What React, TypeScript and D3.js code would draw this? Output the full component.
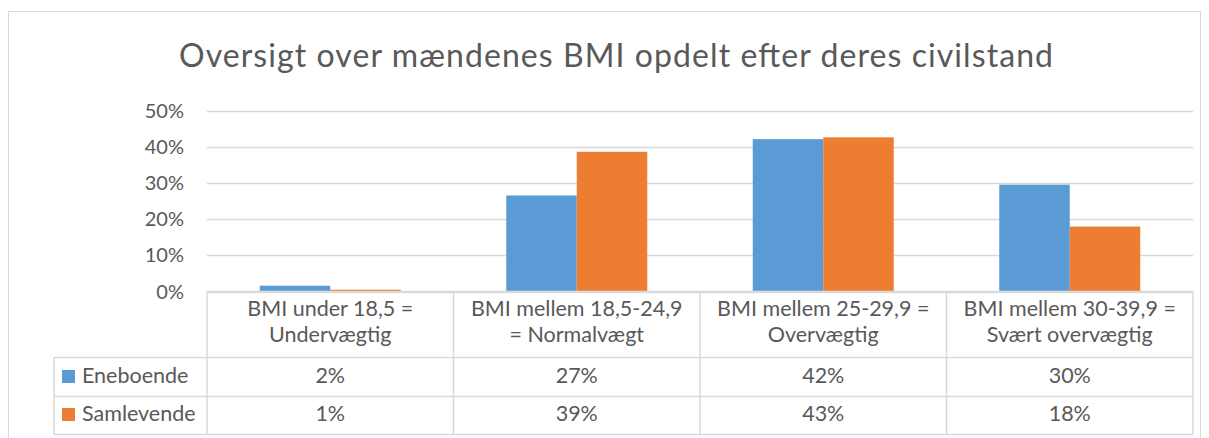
import React, { useRef, useEffect } from 'react';
import * as d3 from 'd3';

// data
const categories = [
  ['BMI under 18,5 =', 'Undervægtig'],
  ['BMI mellem 18,5-24,9', '= Normalvægt'],
  ['BMI mellem 25-29,9 =', 'Overvægtig'],
  ['BMI mellem 30-39,9 =', 'Svært overvægtig'],
];
const seriesNames = ['Eneboende', 'Samlevende'];
const eneboende = [1.6, 26.6, 42.2, 29.6];
const samlevende = [0.5, 38.7, 42.7, 18.0];
const yTicks = [0, 10, 20, 30, 40, 50];
const colors = ['#5b9bd5', '#ed7d31'];
const title = 'Oversigt over mændenes BMI opdelt efter deres civilstand';

export default function App() {
  const svgRef = useRef<SVGSVGElement>(null);

  useEffect(() => {
    const width = 1209;
    const height = 438;
    const left = 207, right = 1193, top = 111, bottom = 291.5;
    const rowH = [357.5, 396.5, 434.5];
    const font = 'Lato, "Open Sans", sans-serif';
    const textColor = '#595959';
    const lineColor = '#d9d9d9';
    const tableFont = '21.5px';

    const svg = d3.select(svgRef.current)
      .attr('width', width)
      .attr('height', height);
    svg.selectAll('*').remove();

    // chart border
    svg.append('rect')
      .attr('x', 8.5).attr('y', 11.5)
      .attr('width', 1192).attr('height', 460)
      .attr('fill', 'white')
      .attr('stroke', lineColor);

    // title
    svg.append('text')
      .attr('x', 616).attr('y', 67)
      .attr('text-anchor', 'middle')
      .attr('textLength', 874)
      .attr('lengthAdjust', 'spacing')
      .style('font-family', font)
      .style('font-size', '32px')
      .style('fill', textColor)
      .text(title);

    // scales
    const x = d3.scaleBand<number>()
      .domain(d3.range(categories.length))
      .range([left, right])
      .paddingInner(0.428)
      .paddingOuter(0.214);
    const x1 = d3.scaleBand<number>()
      .domain([0, 1])
      .range([0, x.bandwidth()]);
    const y = d3.scaleLinear()
      .domain([0, 50])
      .range([bottom, top]);

    // gridlines
    svg.append('g')
      .selectAll('line')
      .data(yTicks)
      .join('line')
      .attr('x1', left).attr('x2', right)
      .attr('y1', d => Math.round(y(d)) + 0.5)
      .attr('y2', d => Math.round(y(d)) + 0.5)
      .attr('stroke', lineColor)
      .attr('stroke-width', 1.3);

    // y labels
    svg.append('g')
      .selectAll('text')
      .data(yTicks)
      .join('text')
      .attr('x', 184)
      .attr('y', d => y(d))
      .attr('dy', '0.35em')
      .attr('text-anchor', 'end')
      .style('font-family', font)
      .style('font-size', '20px')
      .style('fill', textColor)
      .text(d => `${d}%`);

    // bars
    const series = [eneboende, samlevende];
    series.forEach((vals, si) => {
      svg.append('g')
        .selectAll('rect')
        .data(vals)
        .join('rect')
        .attr('x', (d, i) => x(i)! + x1(si)!)
        .attr('y', d => y(d))
        .attr('width', x1.bandwidth())
        .attr('height', d => bottom - y(d))
        .attr('fill', colors[si]);
    });

    // data table
    const step = x.step();
    const table = svg.append('g')
      .attr('stroke', lineColor)
      .attr('stroke-width', 1.5)
      .attr('fill', 'none');
    table.append('line').attr('x1', left).attr('x2', right).attr('y1', bottom).attr('y2', bottom);
    rowH.forEach(ry => {
      table.append('line').attr('x1', 54).attr('x2', right).attr('y1', ry).attr('y2', ry);
    });
    d3.range(categories.length + 1).forEach(i => {
      const vx = left + i * step;
      table.append('line').attr('x1', vx).attr('x2', vx).attr('y1', bottom).attr('y2', rowH[2]);
    });
    table.append('line').attr('x1', 54).attr('x2', 54).attr('y1', rowH[0]).attr('y2', rowH[2]);

    // header text
    categories.forEach((lines, i) => {
      const cx = left + (i + 0.5) * step;
      lines.forEach((ln, li) => {
        svg.append('text')
          .attr('x', cx)
          .attr('y', 316 + li * 26)
          .attr('text-anchor', 'middle')
          .style('font-family', font)
          .style('font-size', tableFont)
          .style('fill', textColor)
          .text(ln);
      });
    });

    // rows
    const rowBase = [383, 421];
    series.forEach((vals, si) => {
      svg.append('rect')
        .attr('x', 62).attr('y', rowBase[si] - 13)
        .attr('width', 13).attr('height', 13)
        .attr('fill', colors[si]);
      svg.append('text')
        .attr('x', 82).attr('y', rowBase[si])
        .style('font-family', font)
        .style('font-size', tableFont)
        .style('fill', textColor)
        .text(seriesNames[si]);
      vals.forEach((v, i) => {
        svg.append('text')
          .attr('x', left + (i + 0.5) * step)
          .attr('y', rowBase[si])
          .attr('text-anchor', 'middle')
          .style('font-family', font)
          .style('font-size', tableFont)
          .style('fill', textColor)
          .text(`${Math.round(v)}%`);
      });
    });
  }, []);

  return (
    <svg ref={svgRef} style={{ position: 'absolute', left: 0, top: 0, display: 'block' }}></svg>
  );
}
